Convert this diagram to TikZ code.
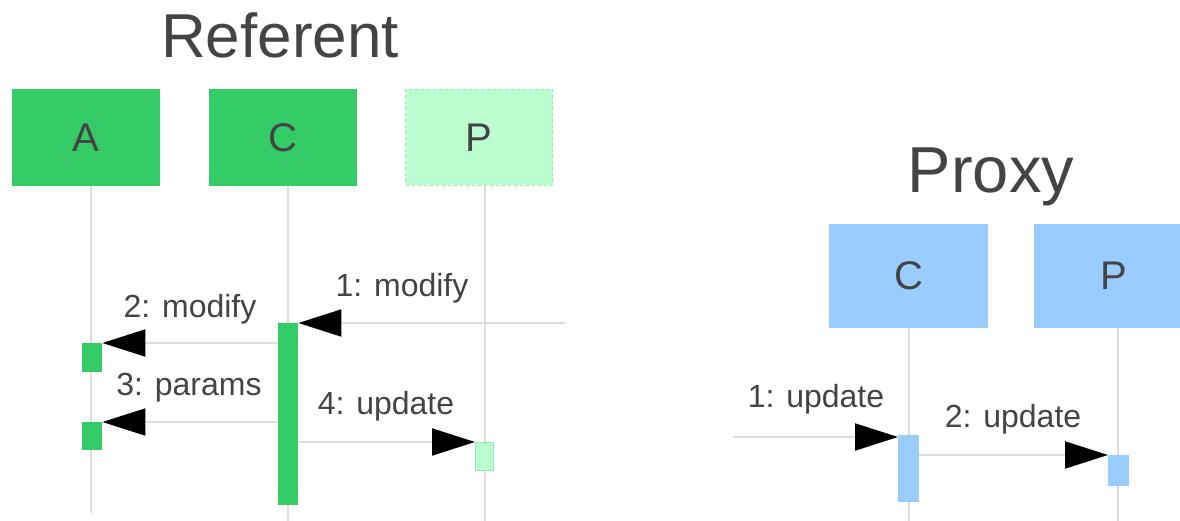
\documentclass[tikz,border=0pt]{standalone}
\usepackage{fontspec}
\setmainfont{Liberation Sans}
\usetikzlibrary{arrows.meta}
\definecolor{grn}{HTML}{33CC66}
\definecolor{lgrn}{HTML}{BBFFD0}
\definecolor{lgrnb}{HTML}{99E6B0}
\definecolor{blu}{HTML}{99CCFF}
\definecolor{lgray}{HTML}{DDDDDD}
\definecolor{txt}{HTML}{444444}
\tikzset{
  box/.style={rectangle, inner sep=0pt, text=txt, font=\fontsize{40}{40}\selectfont},
  title/.style={anchor=base, inner sep=0pt, text=txt, font=\fontsize{62}{62}\selectfont},
  lbl/.style={anchor=base, inner sep=0pt, text=txt, font=\fontsize{32}{32}\selectfont},
  life/.style={draw=lgray, line width=2pt},
  act/.style={rectangle, inner sep=0pt, draw=none},
  msg/.style={draw=lgray, line width=2pt, -{Triangle[length=43pt,width=27pt,black]}, shorten >=0pt}
}
\begin{document}
\begin{tikzpicture}[x=1pt,y=-1pt]
\useasboundingbox (0,0) rectangle (1180,521);
\clip (0,0) rectangle (1180,521);
\fill[white] (0,0) rectangle (1180,521);
% titles
\node[title] (tref) at (280,58) {Referent};
\node[title, font=\fontsize{65}{65}\selectfont] (tprx) at (991,193) {Proxy};
% Referent boxes
\node[box, fill=grn, minimum width=148pt, minimum height=97pt] (A) at (86,137.5) {A};
\node[box, fill=grn, minimum width=148pt, minimum height=97pt] (C) at (283,137.5) {C};
\node[box, fill=lgrn, draw=lgrnb, dashed, line width=1pt, minimum width=147pt, minimum height=96pt] (P) at (479,137.5) {P};
% Proxy boxes
\node[box, fill=blu, minimum width=159pt, minimum height=104pt] (PC) at (908.5,276) {C};
\node[box, fill=blu, minimum width=159pt, minimum height=104pt] (PP) at (1113.5,276) {P};
% lifelines
\coordinate (Aend) at (91,513);
\coordinate (Cend) at (288,521);
\coordinate (Pend) at (485,521);
\coordinate (PCend) at (909,521);
\coordinate (PPend) at (1118,521);
\draw[life] (Aend |- A.south) -- (Aend);
\draw[life] (Cend |- C.south) -- (Cend);
\draw[life] (Pend |- P.south) -- (Pend);
\draw[life] (PCend |- PC.south) -- (PCend);
\draw[life] (PPend |- PP.south) -- (PPend);
% activations Referent
\node[act, fill=grn, minimum width=20pt, minimum height=29pt, anchor=north west] (a1) at (82,343) {};
\node[act, fill=grn, minimum width=20pt, minimum height=28pt, anchor=north west] (a2) at (82,422) {};
\node[act, fill=grn, minimum width=20pt, minimum height=182pt, anchor=north west] (ca) at (278,323) {};
\node[act, fill=lgrn, draw=lgrnb, line width=0.6pt, minimum width=18pt, minimum height=28pt, anchor=north west] (pa) at (475,442) {};
% activations Proxy
\node[act, fill=blu, minimum width=21pt, minimum height=67pt, anchor=north west] (pca) at (898,435) {};
\node[act, fill=blu, minimum width=21pt, minimum height=31pt, anchor=north west] (ppa) at (1108,455) {};
% messages Referent
\coordinate (in1) at (565,323);
\draw[msg] (in1) -- (ca.north east);
\draw[msg] (ca.west |- a1.north east) -- (a1.north east);
\draw[msg] (ca.west |- a2.north east) -- (a2.north east);
\draw[msg] (ca.east |- pa.north west) -- (pa.north west);
\node[lbl] (l1) at (402,297) {1: modify};
\node[lbl] (l2) at (190,317) {2: modify};
\node[lbl] (l3) at (189,395) {3: params};
\node[lbl] (l4) at (386,414) {4: update};
% messages Proxy
\coordinate (in2) at (733,437);
\draw[msg] (in2) -- (in2 -| pca.west);
\draw[msg] (pca.east |- ppa.north west) -- (ppa.north west);
\node[lbl] (m1) at (816,407) {1: update};
\node[lbl] (m2) at (1013,427) {2: update};
\end{tikzpicture}
\end{document}
